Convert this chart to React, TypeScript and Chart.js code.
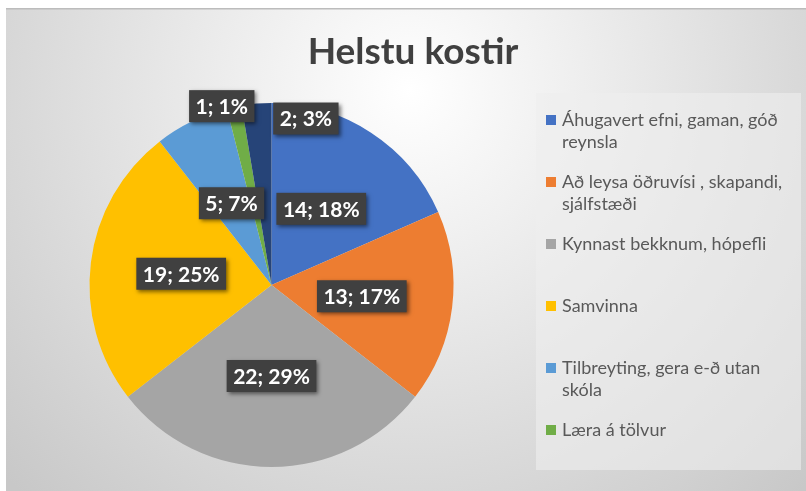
import React, { useEffect, useRef } from "react";
import { Chart, registerables } from "chart.js";

Chart.register(...registerables);

const chartTitle = "Helstu kostir";
const categories: string[][] = [
  ["Áhugavert efni, gaman, góð", "reynsla"],
  ["Að leysa öðruvísi , skapandi,", "sjálfstæði"],
  ["Kynnast bekknum, hópefli"],
  ["Samvinna"],
  ["Tilbreyting, gera e-ð utan", "skóla"],
  ["Læra á tölvur"],
  [""],
];
const counts = [14, 13, 22, 19, 5, 1, 2];
const colors = ["#4472C4", "#ED7D31", "#A5A5A5", "#FFC000", "#5B9BD5", "#70AD47", "#264478"];
// label placement (fraction of radius, angular shift in degrees)
const labelRadius = [0.5, 0.5, 0.5, 0.5, 0.5, 1.02, 0.934];
const labelShift = [0, 0, 0, 0, 0, -3.7, 16.4];

const W = 806;
const H = 491;
const total = counts.reduce((a, b) => a + b, 0);

const decorPlugin = {
  id: "decor",
  beforeDraw(chart: any) {
    const ctx = chart.ctx as CanvasRenderingContext2D;
    ctx.save();
    ctx.fillStyle = "#ffffff";
    ctx.fillRect(0, 0, W, H);
    const g = ctx.createRadialGradient(410, 90, 0, 410, 90, 560);
    g.addColorStop(0, "#ffffff");
    g.addColorStop(1, "#c8c8c8");
    ctx.fillStyle = g;
    ctx.fillRect(6, 9, W - 6, H - 9);
    ctx.fillStyle = "#bcbcbc";
    ctx.fillRect(6, 8, W - 6, 1.5);

    // legend box
    ctx.fillStyle = "rgba(238,238,238,0.6)";
    ctx.fillRect(536, 93, 265, 377);

    // legend entries
    ctx.font = "18px Lato";
    ctx.textAlign = "left";
    ctx.textBaseline = "middle";
    let row = 0;
    categories.forEach((lines, i) => {
      if (!lines[0]) return;
      const y0 = 120 + row * 62;
      ctx.fillStyle = colors[i];
      ctx.fillRect(546, y0 - 5, 10, 10);
      ctx.fillStyle = "#595959";
      lines.forEach((ln, j) => ctx.fillText(ln, 562, y0 + j * 22));
      row++;
    });

    // title
    ctx.font = "bold 37px Lato";
    ctx.fillStyle = "#404040";
    ctx.textAlign = "center";
    ctx.textBaseline = "alphabetic";
    ctx.fillText(chartTitle, 413, 64);
    ctx.restore();
  },
  afterDatasetsDraw(chart: any) {
    const ctx = chart.ctx as CanvasRenderingContext2D;
    const meta = chart.getDatasetMeta(0);
    meta.data.forEach((arc: any, i: number) => {
      const p = arc.getProps(["x", "y", "startAngle", "endAngle", "outerRadius"], true);
      const a = (p.startAngle + p.endAngle) / 2 + (labelShift[i] * Math.PI) / 180;
      const d = p.outerRadius * labelRadius[i];
      const lx = p.x + Math.cos(a) * d;
      const ly = p.y + Math.sin(a) * d;
      const text = `${counts[i]}; ${Math.round((counts[i] / total) * 100)}%`;
      ctx.save();
      ctx.font = "bold 21px Lato";
      const tw = ctx.measureText(text).width;
      const bw = tw + 13;
      const bh = 32;
      ctx.shadowColor = "rgba(0,0,0,0.5)";
      ctx.shadowBlur = 4;
      ctx.shadowOffsetX = 2;
      ctx.shadowOffsetY = 2;
      ctx.fillStyle = "#404040";
      ctx.fillRect(lx - bw / 2, ly - bh / 2, bw, bh);
      ctx.shadowColor = "transparent";
      ctx.fillStyle = "#ffffff";
      ctx.textAlign = "center";
      ctx.textBaseline = "middle";
      ctx.fillText(text, lx, ly + 1);
      ctx.restore();
    });
  },
};

export default function App() {
  const ref = useRef<HTMLCanvasElement | null>(null);
  useEffect(() => {
    if (!ref.current) return;
    const chart = new Chart(ref.current, {
      type: "pie",
      data: {
        labels: categories,
        datasets: [
          {
            data: counts,
            backgroundColor: colors,
            borderWidth: 0,
          },
        ],
      },
      options: {
        responsive: false,
        maintainAspectRatio: false,
        animation: false,
        devicePixelRatio: 1,
        layout: { padding: { left: 89.5, right: 352.5, top: 103, bottom: 24 } },
        plugins: {
          legend: { display: false },
          title: { display: false },
          tooltip: { enabled: false },
        },
      },
      plugins: [decorPlugin],
    } as any);
    return () => chart.destroy();
  }, []);
  return (
    <div style={{ position: "fixed", left: 0, top: 0, width: W, height: H }}>
      <canvas ref={ref} width={W} height={H} style={{ display: "block" }} />
    </div>
  );
}
